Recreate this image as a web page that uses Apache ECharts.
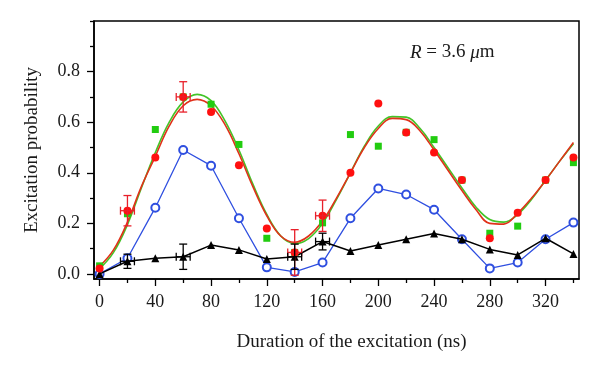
<!DOCTYPE html>
<html><head><meta charset="utf-8">
<script src="https://cdn.jsdelivr.net/npm/echarts@6/dist/echarts.min.js"></script>
<style>html,body{margin:0;padding:0;background:#fff}#c{width:600px;height:367px}</style>
</head><body><div id="c"></div>
<script>
// ---- data ----
const durations = [0,20,40,60,80,100,120,140,160,180,200,220,240,260,280,300,320,340];
const redPts   = [0.022,0.25,0.46,0.70,0.64,0.43,0.18,0.085,0.23,0.40,0.674,0.559,0.48,0.371,0.141,0.242,0.371,0.46];
const greenPts = [0.032,0.238,0.571,0.70,0.671,0.512,0.141,0.085,0.202,0.551,0.505,0.56,0.531,0.371,0.161,0.189,0.371,0.44];
const bluePts  = [0.0,0.062,0.262,0.49,0.428,0.22,0.026,0.008,0.045,0.22,0.338,0.314,0.254,0.137,0.022,0.045,0.137,0.203];
const blackPts = [0.0,0.05,0.062,0.068,0.114,0.095,0.059,0.068,0.128,0.091,0.114,0.137,0.16,0.137,0.097,0.075,0.141,0.079];

const fitX     = [0,10,20,30,40,50,60,70,80,90,100,110,120,130,140,150,160,170,180,190,200,210,220,230,240,250,260,270,280,290,300,310,320,330,340];
const redFit   = [0.03,0.095,0.205,0.345,0.465,0.585,0.665,0.69,0.665,0.59,0.475,0.345,0.23,0.15,0.125,0.15,0.21,0.30,0.40,0.50,0.575,0.615,0.61,0.565,0.49,0.41,0.33,0.255,0.2,0.197,0.24,0.30,0.37,0.445,0.52];
const greenFit = [0.02,0.085,0.195,0.34,0.48,0.60,0.68,0.71,0.685,0.605,0.49,0.355,0.235,0.15,0.12,0.14,0.20,0.295,0.40,0.505,0.585,0.622,0.62,0.575,0.50,0.42,0.34,0.265,0.215,0.205,0.235,0.295,0.37,0.445,0.515];

const errAt     = [20,60,140,160];
const redErrX   = [5,5,5,5];
const redErrY   = [0.06,0.06,0.09,0.062];
const blackErrX = [5,5,5,5];
const blackErrY = [0.028,0.05,0.05,0.033];

const xTicks = [0,40,80,120,160,200,240,280,320];
const xMinor = [20,60,100,140,180,220,260,300,340];
const yTicks = [0,0.2,0.4,0.6,0.8];
const yMinor = [0.1,0.3,0.5,0.7,0.9,1.0];

// ---- build ----
const zip = (xs, ys) => xs.map((x,i) => [x, ys[i]]);
const errData = (pts, ex, ey) => errAt.map((x,i) => [x, pts[durations.indexOf(x)], ex[i], ey[i]]);

const FONT = 'Liberation Serif';
const C_RED = '#ff1010', C_REDFIT = '#e0321a', C_GREEN = '#22cc10', C_GREENFIT = '#44c428', C_BLUE = '#2f4fe0';

function errRender(color) {
  return function (params, api) {
    const x = api.value(0), y = api.value(1), ex = api.value(2), ey = api.value(3);
    const t = api.coord([x, y + ey]), b = api.coord([x, y - ey]);
    const l = api.coord([x - ex, y]), r = api.coord([x + ex, y]);
    const cap = 4;
    const st = { stroke: color, lineWidth: 1.3 };
    const ln = (x1,y1,x2,y2) => ({ type: 'line', shape: { x1, y1, x2, y2 }, style: st });
    return { type: 'group', children: [
      ln(t[0], t[1], b[0], b[1]),
      ln(t[0]-cap, t[1], t[0]+cap, t[1]),
      ln(b[0]-cap, b[1], b[0]+cap, b[1]),
      ln(l[0], l[1], r[0], r[1]),
      ln(l[0], l[1]-cap, l[0], l[1]+cap),
      ln(r[0], r[1]-cap, r[0], r[1]+cap)
    ]};
  };
}

const axisLineStyle = { color: '#000', width: 1.5 };
const labelStyle = { fontFamily: FONT, fontSize: 18, color: '#1a1a1a' };

const chart = echarts.init(document.getElementById('c'), null, { renderer: 'canvas' });
chart.setOption({
  animation: false,
  backgroundColor: '#fff',
  grid: { left: 94, right: 21, top: 21, bottom: 88, show: true, borderColor: '#000', borderWidth: 1.5, backgroundColor: 'transparent' },
  xAxis: [{
    type: 'value', min: -4, max: 344,
    axisLine: { show: true, onZero: false, lineStyle: axisLineStyle },
    axisTick: { show: true, length: 7, customValues: xTicks, lineStyle: { color: '#000', width: 1.3 } },
    axisLabel: { customValues: xTicks, margin: 14, ...labelStyle },
    splitLine: { show: false },
    name: 'Duration of the excitation (ns)', nameLocation: 'middle', nameGap: 54,
    nameTextStyle: { fontFamily: FONT, fontSize: 19, color: '#1a1a1a', padding: [0, 0, 0, 30] }
  }, {
    type: 'value', min: -4, max: 344, position: 'bottom',
    axisLine: { show: false, onZero: false },
    axisTick: { show: true, length: 4, customValues: xMinor, lineStyle: { color: '#000', width: 1.3 } },
    axisLabel: { show: false }, splitLine: { show: false }
  }],
  yAxis: [{
    type: 'value', min: -0.02, max: 1.0,
    axisLine: { show: true, onZero: false, lineStyle: axisLineStyle },
    axisTick: { show: true, length: 7, customValues: yTicks, lineStyle: { color: '#000', width: 1.3 } },
    axisLabel: { customValues: yTicks, margin: 14, formatter: v => v.toFixed(1), ...labelStyle },
    splitLine: { show: false },
    name: 'Excitation probability', nameLocation: 'middle', nameGap: 52, nameRotate: 90,
    nameTextStyle: { fontFamily: FONT, fontSize: 19, color: '#1a1a1a' }
  }, {
    type: 'value', min: -0.02, max: 1.0, position: 'left',
    axisLine: { show: false, onZero: false },
    axisTick: { show: true, length: 4, customValues: yMinor, lineStyle: { color: '#000', width: 1.3 } },
    axisLabel: { show: false }, splitLine: { show: false }
  }],
  graphic: [{
    type: 'text', left: 410, top: 43, z: 100,
    style: {
      text: '{i|R} = 3.6 {i|μ}m',
      rich: { i: { fontStyle: 'italic', fontFamily: FONT, fontSize: 19, fill: '#1a1a1a' } },
      fontFamily: FONT, fontSize: 19, fill: '#1a1a1a'
    }
  }],
  series: [
    { type: 'line', data: zip(fitX, greenFit), smooth: 0.4, showSymbol: false, lineStyle: { color: C_GREENFIT, width: 1.6 }, z: 2 },
    { type: 'line', data: zip(fitX, redFit), smooth: 0.4, showSymbol: false, lineStyle: { color: C_REDFIT, width: 1.6 }, z: 3 },
    { type: 'line', data: zip(durations, bluePts), symbol: 'emptyCircle', symbolSize: 8,
      lineStyle: { color: C_BLUE, width: 1.3 }, itemStyle: { color: C_BLUE, borderWidth: 1.4 }, z: 4 },
    { type: 'line', data: zip(durations, blackPts), symbol: 'triangle', symbolSize: 8,
      lineStyle: { color: '#000', width: 1.5 }, itemStyle: { color: '#000' }, z: 5 },
    { type: 'scatter', data: zip(durations, greenPts), symbol: 'rect', symbolSize: 7, itemStyle: { color: C_GREEN, opacity: 1 }, z: 6 },
    { type: 'scatter', data: zip(durations, redPts), symbol: 'circle', symbolSize: 8, itemStyle: { color: C_RED, opacity: 1 }, z: 7 },
    { type: 'custom', renderItem: errRender('#e8202a'), data: errData(redPts, redErrX, redErrY), z: 8 },
    { type: 'custom', renderItem: errRender('#000'), data: errData(blackPts, blackErrX, blackErrY), z: 9 }
  ]
});
</script></body></html>
